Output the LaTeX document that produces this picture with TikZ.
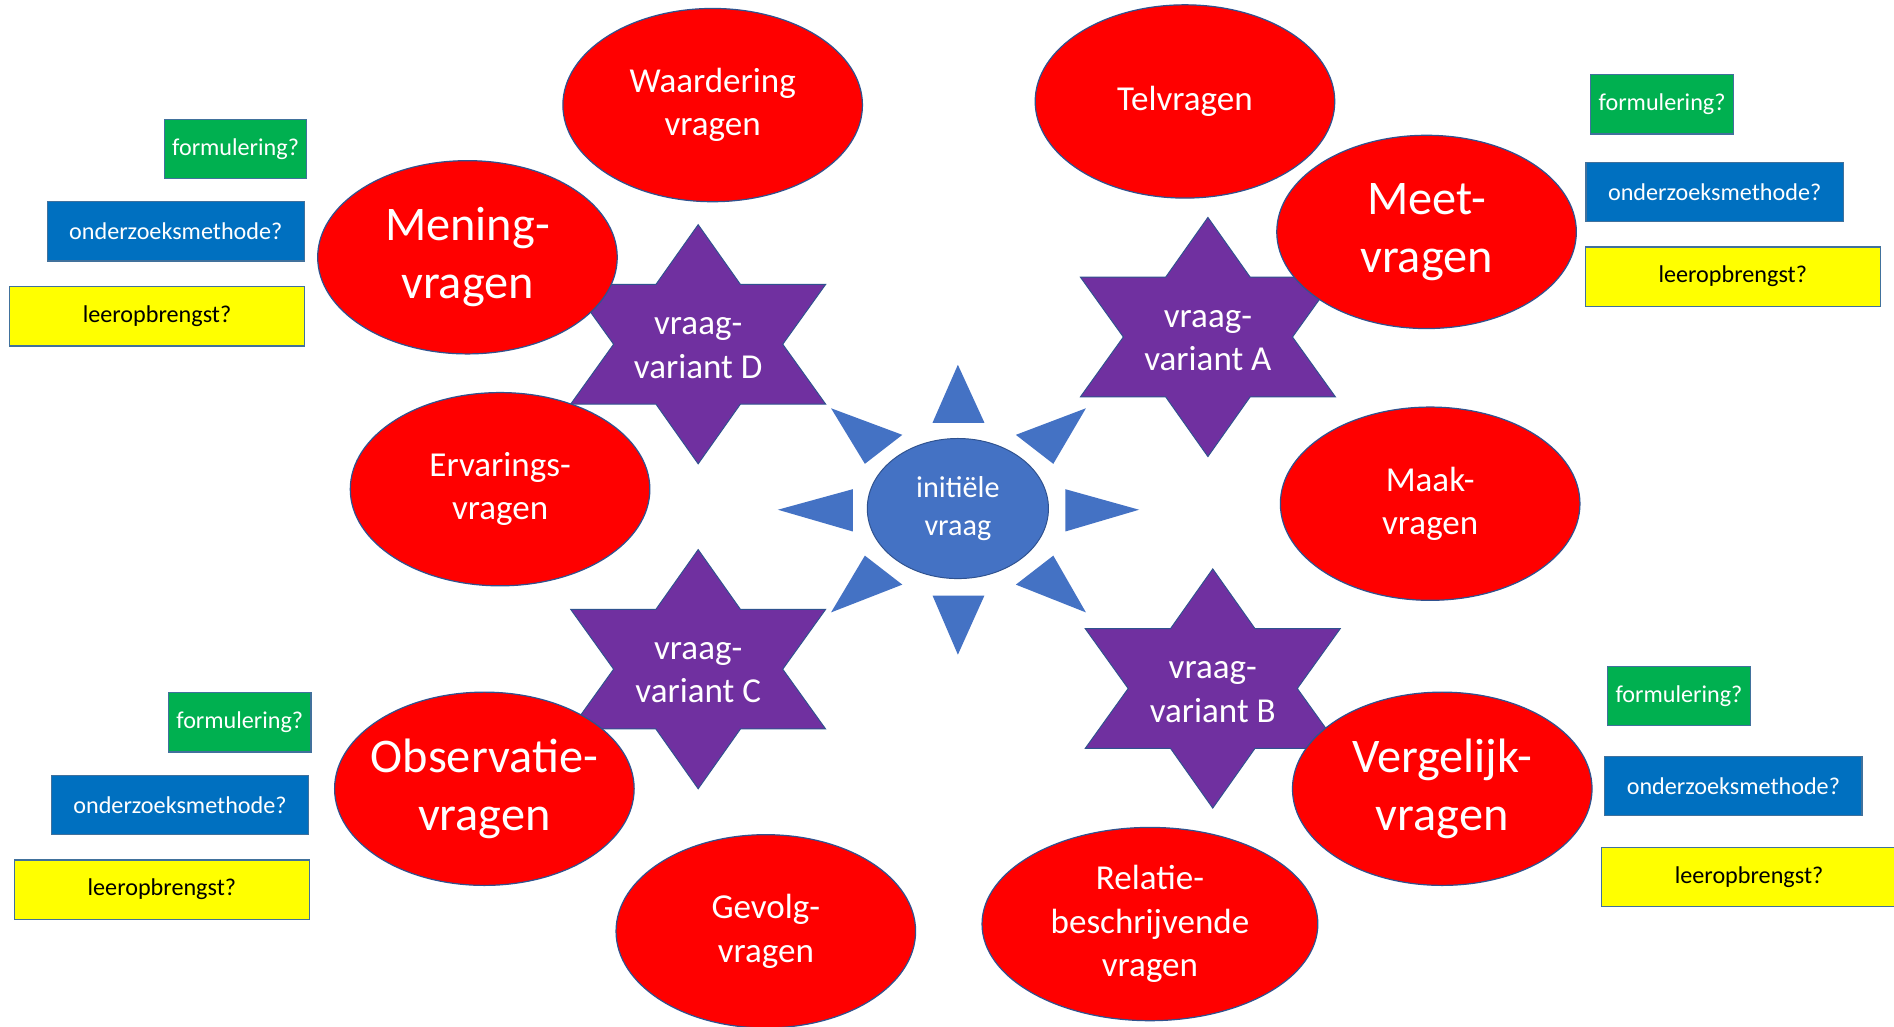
\documentclass[tikz,border=0pt]{standalone}
\usepackage{fontspec}
\setmainfont{Carlito}
\usetikzlibrary{shapes.geometric}
\definecolor{redf}{HTML}{FF0000}
\definecolor{edge}{HTML}{2F528F}
\definecolor{boxedge}{HTML}{41719C}
\definecolor{purp}{HTML}{7030A0}
\definecolor{cblue}{HTML}{4472C4}
\definecolor{bgreen}{HTML}{00B050}
\definecolor{bblue}{HTML}{0070C0}
\definecolor{byellow}{HTML}{FFFF00}
\tikzset{
 oval/.style={ellipse, fill=redf, draw=edge, line width=1pt, inner ysep=0pt, inner xsep=-30pt,
   minimum width=248pt, minimum height=160pt, text=white, align=center,
   font=\fontsize{29}{36}\selectfont},
 bigoval/.style={oval, font=\fontsize{40}{48}\selectfont},
 startext/.style={text=white, align=center, font=\fontsize{29}{36}\selectfont},
 starshape/.style={fill=purp, draw=edge, line width=0.8pt},
 ray/.style={fill=cblue, draw=none},
 centeroval/.style={ellipse, fill=cblue, draw=edge, line width=0.8pt, inner sep=0pt,
   minimum width=150pt, minimum height=116pt, text=white, align=center,
   font=\fontsize{25}{32}\selectfont},
 qbox/.style={rectangle, draw=boxedge, line width=1pt, inner sep=0pt,
   minimum height=49pt, font=\fontsize{20}{24}\selectfont},
 greenbox/.style={qbox, fill=bgreen, text=white, minimum width=118pt},
 bluebox/.style={qbox, fill=bblue, text=white, minimum width=213pt},
 yellowbox/.style={qbox, fill=byellow, text=black, minimum width=244pt},
}
\newcommand{\drawsixstar}[4]{%
 \begin{scope}[shift={(#1,#2)}]
 \draw[starshape] (0,-99) -- (35,-49.5) -- (105.5,-49.5) -- (70,0) -- (105.5,49.5)
   -- (35,49.5) -- (0,99) -- (-35,49.5) -- (-105.5,49.5) -- (-70,0)
   -- (-105.5,-49.5) -- (-35,-49.5) -- cycle;
 \end{scope}
 \node[startext] (#3) at (#1,#2+3) {#4};}
\begin{document}
\begin{tikzpicture}[x=1pt,y=-1pt]
\useasboundingbox (0,0) rectangle (1568,850);
\fill[white] (0,0) rectangle (1568,850);
% stars
\drawsixstar{1000}{279}{starA}{vraag-\\variant A}
\drawsixstar{1004}{570}{starB}{vraag-\\variant B}
\drawsixstar{578}{554}{starC}{vraag-\\variant C}
\drawsixstar{578}{285}{starD}{vraag-\\variant D}
% red ellipses
\node[oval] (waard) at (590,87) {Waardering\\vragen};
\node[oval] (tel) at (981,84) {Telvragen};
\node[bigoval] (meet) at (1181,192) {Meet-\\vragen};
\node[oval] (maak) at (1184,417) {Maak-\\vragen};
\node[bigoval] (verg) at (1194,653) {Vergelijk-\\vragen};
\node[oval, minimum width=278pt] (rel) at (952,765) {Relatie-\\beschrijvende\\vragen};
\node[oval] (gev) at (634,771) {Gevolg-\\vragen};
\node[bigoval] (obs) at (401,653) {Observatie-\\vragen};
\node[oval] (erv) at (414,405) {Ervarings-\\vragen};
\node[bigoval] (men) at (387,213) {Mening-\\vragen};
% center sun
\node[centeroval] (init) at (793,421) {initiële\\vraag};
\fill[ray] (793,302) -- (772,350) -- (815,350) -- cycle;
\fill[ray] (793,542) -- (772,493) -- (815,493) -- cycle;
\fill[ray] (644,422) -- (706,405) -- (706,440) -- cycle;
\fill[ray] (943,422) -- (882,405) -- (882,440) -- cycle;
\fill[ray] (688,338) -- (747,360) -- (716,384) -- cycle;
\fill[ray] (899,338) -- (841,360) -- (872,384) -- cycle;
\fill[ray] (688,507) -- (747,484) -- (716,460) -- cycle;
\fill[ray] (899,507) -- (841,484) -- (872,460) -- cycle;
% boxes left upper
\node[greenbox] (g1) at (195,123.5) {formulering?};
\node[bluebox] (b1) at (145.5,191.5) {onderzoeksmethode?};
\node[yellowbox] (y1) at (130,262) {leeropbrengst?};
% boxes left lower
\node[greenbox] (g2) at (198.5,598) {formulering?};
\node[bluebox] (b2) at (149,666.5) {onderzoeksmethode?};
\node[yellowbox] (y2) at (134,736.5) {leeropbrengst?};
% boxes right upper
\node[greenbox] (g3) at (1376,86.5) {formulering?};
\node[bluebox] (b3) at (1419.5,159) {onderzoeksmethode?};
\node[yellowbox] (y3) at (1434.5,229) {leeropbrengst?};
% boxes right lower
\node[greenbox] (g4) at (1390,576) {formulering?};
\node[bluebox] (b4) at (1435,650.5) {onderzoeksmethode?};
\node[yellowbox] (y4) at (1448,726) {leeropbrengst?};
\end{tikzpicture}
\end{document}
